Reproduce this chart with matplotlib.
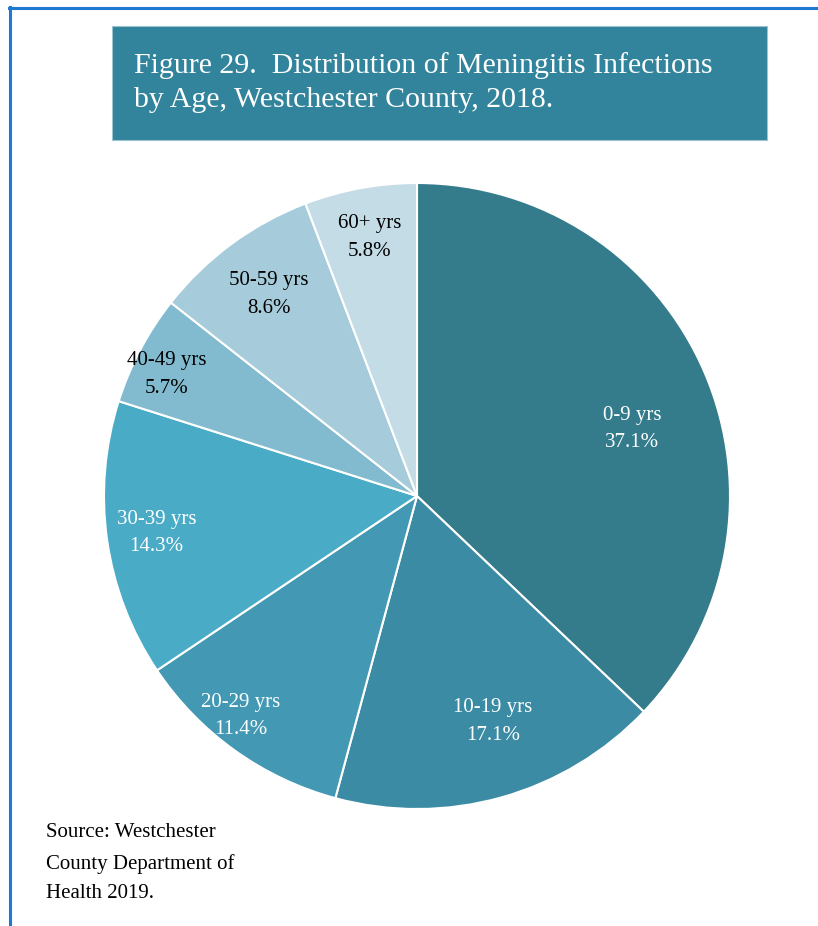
import numpy as np
import matplotlib.pyplot as plt
from matplotlib.patches import Rectangle

# data
age_groups = ['0-9 yrs', '10-19 yrs', '20-29 yrs', '30-39 yrs',
              '40-49 yrs', '50-59 yrs', '60+ yrs']
percents = [37.1, 17.1, 11.4, 14.3, 5.7, 8.6, 5.8]
slice_colors = ['#347B8C', '#3A8BA3', '#4399B3', '#4AABC6',
                '#82BBCF', '#A6CCDB', '#C4DCE5']
label_colors = ['white', 'white', 'white', 'white', 'black', 'black', 'black']
# label distance (fraction of radius) and angle tweak in degrees
label_dist = [0.72, 0.76, 0.90, 0.84, 0.89, 0.80, 0.84]
label_shift = [-6, 3, -3, 0, 2, 0, 0]

W, H = 818, 926
fig = plt.figure(figsize=(W / 100, H / 100), dpi=100)
fig.patch.set_facecolor('white')

serif = ['Liberation Serif', 'DejaVu Serif']

# blue frame lines (top and left)
fig.add_artist(plt.Line2D([9 / W, 1], [1 - 7.5 / H, 1 - 7.5 / H],
                          color='#1E7AD0', lw=2.2))
fig.add_artist(plt.Line2D([9.5 / W, 9.5 / W], [0, 1 - 7 / H],
                          color='#1E7AD0', lw=2.2))

# title box
fig.add_artist(Rectangle((112 / W, 1 - 140 / H), (767 - 112) / W, (140 - 26) / H,
                         facecolor='#31849B', edgecolor='#9CC3D0', lw=0.8))
fig.text(134 / W, 1 - 66 / H, 'Figure 29.  Distribution of Meningitis Infections',
         color='white', fontsize=21.5, family=serif, va='center', ha='left')
fig.text(134 / W, 1 - 100 / H, 'by Age, Westchester County, 2018.',
         color='white', fontsize=21.5, family=serif, va='center', ha='left')

# pie
cx, cy, r = 417, 496, 313
ax = fig.add_axes([(cx - r) / W, 1 - (cy + r) / H, 2 * r / W, 2 * r / H])
wedges, _ = ax.pie(percents, colors=slice_colors, startangle=90,
                   counterclock=False, radius=1,
                   wedgeprops=dict(edgecolor='white', linewidth=1.5))
ax.set_xlim(-1, 1)
ax.set_ylim(-1, 1)
ax.set_aspect('equal')
ax.axis('off')

for i, w in enumerate(wedges):
    ang = np.deg2rad((w.theta1 + w.theta2) / 2 + label_shift[i])
    d = label_dist[i]
    ax.text(d * np.cos(ang), d * np.sin(ang),
            age_groups[i] + '\n' + ('%.1f%%' % percents[i]),
            ha='center', va='center', fontsize=15, family=serif,
            color=label_colors[i], linespacing=1.6)

# source note
fig.text(46 / W, 1 - 823 / H, 'Source: Westchester\nCounty Department of\nHealth 2019.',
         fontsize=15, family=serif, va='top', ha='left', linespacing=1.78)

plt.savefig('out.png', dpi=100, facecolor='white')
